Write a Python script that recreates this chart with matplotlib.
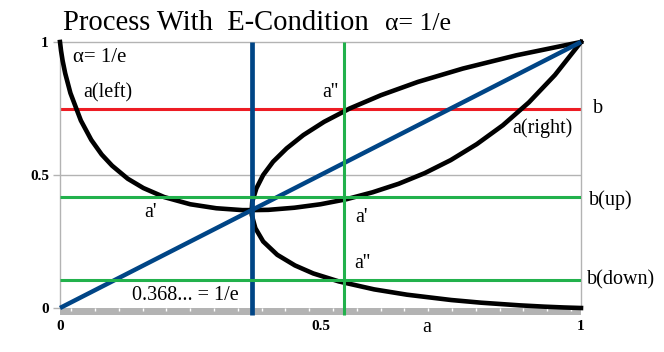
import numpy as np
import matplotlib
matplotlib.use("Agg")
import matplotlib.pyplot as plt
from matplotlib.patches import Rectangle

# ---- data ----
# U-shaped curve (a(left) ... minimum at 1/e ... a(right))
u_a = [0, 0.002, 0.005, 0.01, 0.02, 0.04, 0.06, 0.08, 0.1, 0.13, 0.16, 0.2, 0.25,
       0.3, 0.35, 0.368, 0.4, 0.45, 0.5, 0.55, 0.6, 0.65, 0.7, 0.75, 0.8, 0.85,
       0.9, 0.95, 1]
u_b = [1, 0.967, 0.930, 0.882, 0.808, 0.705, 0.632, 0.577, 0.535, 0.486, 0.451,
       0.417, 0.390, 0.375, 0.368, 0.368, 0.369, 0.377, 0.390, 0.409, 0.435,
       0.467, 0.507, 0.556, 0.616, 0.687, 0.773, 0.876, 1]
# sideways curve (two branches starting at 1/e)
s_b = [0, 0.002, 0.005, 0.01, 0.02, 0.03, 0.05, 0.07, 0.1, 0.13, 0.16, 0.2, 0.25,
       0.3, 0.35, 0.368, 0.4, 0.45, 0.5, 0.55, 0.6, 0.65, 0.7, 0.75, 0.8, 0.85,
       0.9, 0.95, 1]
s_a = [1, 0.967, 0.930, 0.882, 0.808, 0.751, 0.666, 0.603, 0.535, 0.486, 0.451,
       0.417, 0.390, 0.375, 0.368, 0.368, 0.369, 0.377, 0.390, 0.409, 0.435,
       0.467, 0.507, 0.556, 0.616, 0.687, 0.773, 0.876, 1]
diag = [0, 1]
b_main = 0.75
b_up = 0.416
b_down = 0.105
a_inv_e = 0.368
a_green = 0.545

y_ticks = [0, 0.5, 1]
y_ticklabels = ["0", "0.5", "1"]
x_ticks = [0, 0.5, 1]
x_ticklabels = ["0", "0.5", "1"]

BLUE = "#004586"
RED = "#ed1c24"
GREEN = "#22b14c"
GRAY = "#b3b3b3"
SERIF = "Liberation Serif"

fig = plt.figure(figsize=(6.64, 3.52), dpi=100)
ax = fig.add_axes([60 / 664, 44 / 352, 521 / 664, 266 / 352])
ax.set_xlim(0, 1)
ax.set_ylim(0, 1)

# frame / grid
for side in ["left", "right", "top"]:
    ax.spines[side].set_color(GRAY)
    ax.spines[side].set_linewidth(1)
ax.spines["bottom"].set_visible(False)
ax.axhline(0.5, color=GRAY, lw=1, zorder=0)

# gray bar below the x axis with white tick marks
bar_h = 0.027
ax.add_patch(Rectangle((0, -bar_h), 1, bar_h, facecolor=GRAY, edgecolor="none",
                       clip_on=False, zorder=1))
for xt in 0.0213 + 0.0457 * np.arange(22):
    ax.plot([xt, xt], [-0.0005, -0.013], color="white", lw=1.0,
            clip_on=False, zorder=1.5, solid_capstyle="butt")

# reference lines
ax.plot([0, 1], [b_main, b_main], color=RED, lw=2.2, zorder=2,
        solid_capstyle="butt")
# curves
ax.plot(u_a, u_b, color="black", lw=3.3, zorder=3, clip_on=False)
ax.plot(s_a, s_b, color="black", lw=3.3, zorder=3, clip_on=False)
ax.plot(diag, diag, color=BLUE, lw=3.2, zorder=4, clip_on=False,
        solid_capstyle="butt")
ax.plot([a_inv_e, a_inv_e], [-bar_h, 1], color=BLUE, lw=3.4, zorder=5,
        clip_on=False, solid_capstyle="butt")
ax.plot([0, 1], [b_up, b_up], color=GREEN, lw=2.2, zorder=6,
        solid_capstyle="butt")
ax.plot([0, 1], [b_down, b_down], color=GREEN, lw=2.2, zorder=6,
        solid_capstyle="butt")
ax.plot([a_green, a_green], [-bar_h, 1], color=GREEN, lw=2.2, zorder=6,
        clip_on=False, solid_capstyle="butt")

# ticks
ax.set_yticks(y_ticks)
ax.set_yticklabels(y_ticklabels, fontfamily=SERIF, fontweight="bold", fontsize=11)
ax.tick_params(axis="y", length=5, width=1, color=GRAY, pad=3)
ax.set_xticks(x_ticks)
ax.set_xticklabels(x_ticklabels, fontfamily=SERIF, fontweight="bold", fontsize=11)
ax.tick_params(axis="x", length=0, pad=9)

# title
fig.text(63 / 664, 1 - 30 / 352, "Process With  E-Condition", fontfamily=SERIF,
         fontsize=20.6, va="baseline", ha="left")
fig.text(385 / 664, 1 - 29.5 / 352, "α= 1/e", fontfamily=SERIF,
         fontsize=18.5, va="baseline", ha="left")

# annotations
def lab(x, y, s, size=14.5):
    ax.text(x, y, s, fontfamily=SERIF, fontsize=size, va="baseline",
            ha="left", clip_on=False, zorder=7)

lab(0.025, 0.926, "α= 1/e", 15)
lab(0.044, 0.793, "a(left)")
lab(0.503, 0.793, "a''")
lab(1.023, 0.733, "b")
lab(0.869, 0.658, "a(right)")
lab(1.015, 0.387, "b(up)")
lab(1.012, 0.090, "b(down)")
lab(0.161, 0.342, "a'")
lab(0.566, 0.323, "a'")
lab(0.564, 0.150, "a''")
lab(0.138, 0.030, "0.368... = 1/e")
lab(0.695, -0.090, "a")

fig.savefig("out.png", dpi=100)
